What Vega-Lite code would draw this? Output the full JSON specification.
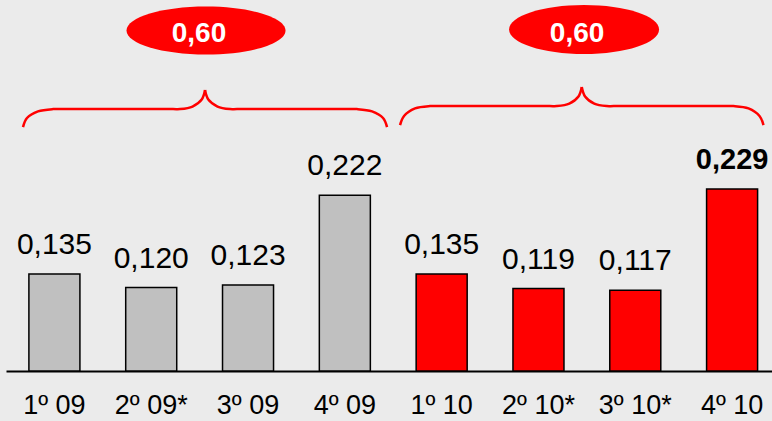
{
  "$schema": "https://vega.github.io/schema/vega-lite/v6.json",
  "width": 766,
  "height": 371,
  "autosize": {"type": "none"},
  "padding": {"left": 6, "top": 0, "right": 0, "bottom": 50},
  "background": "#ebebeb",
  "config": {
    "view": {"stroke": null},
    "font": "Liberation Sans",
    "locale": {"number": {"decimal": ",", "thousands": ".", "grouping": [3], "currency": ["", " €"]}},
    "axis": {"grid": false}
  },
  "datasets": {
    "bars": [
      {"q": "1º 09", "year": "2009", "v": 0.135},
      {"q": "2º 09*", "year": "2009", "v": 0.120},
      {"q": "3º 09", "year": "2009", "v": 0.123},
      {"q": "4º 09", "year": "2009", "v": 0.222},
      {"q": "1º 10", "year": "2010", "v": 0.135},
      {"q": "2º 10*", "year": "2010", "v": 0.119},
      {"q": "3º 10*", "year": "2010", "v": 0.117},
      {"q": "4º 10", "year": "2010", "v": 0.229}
    ],
    "totals": [
      {"group": "2009", "pos": 2.566, "total": 0.60},
      {"group": "2010", "pos": 6.471, "total": 0.60}
    ],
    "braces": [
      {"seg": "L1", "k": 1, "bx": 0.6756, "by": 0.2975},
      {"seg": "L1", "k": 2, "bx": 0.7169, "by": 0.3075},
      {"seg": "L1", "k": 3, "bx": 0.8306, "by": 0.3148},
      {"seg": "L1", "k": 4, "bx": 0.9855, "by": 0.3174},
      {"seg": "L1", "k": 5, "bx": 1.0579, "by": 0.3174},
      {"seg": "L1", "k": 6, "bx": 2.2252, "by": 0.3174},
      {"seg": "L1", "k": 7, "bx": 2.2975, "by": 0.3174},
      {"seg": "L1", "k": 8, "bx": 2.4267, "by": 0.3202},
      {"seg": "L1", "k": 9, "bx": 2.5217, "by": 0.3279},
      {"seg": "L1", "k": 10, "bx": 2.5558, "by": 0.3384},
      {"seg": "L2", "k": 1, "bx": 2.5558, "by": 0.3384},
      {"seg": "L2", "k": 2, "bx": 2.5899, "by": 0.3279},
      {"seg": "L2", "k": 3, "bx": 2.6849, "by": 0.3202},
      {"seg": "L2", "k": 4, "bx": 2.8140, "by": 0.3174},
      {"seg": "L2", "k": 5, "bx": 2.8864, "by": 0.3174},
      {"seg": "L2", "k": 6, "bx": 4.0537, "by": 0.3174},
      {"seg": "L2", "k": 7, "bx": 4.1260, "by": 0.3174},
      {"seg": "L2", "k": 8, "bx": 4.2810, "by": 0.3148},
      {"seg": "L2", "k": 9, "bx": 4.3946, "by": 0.3075},
      {"seg": "L2", "k": 10, "bx": 4.4360, "by": 0.2975},
      {"seg": "R1", "k": 1, "bx": 4.5702, "by": 0.2997},
      {"seg": "R1", "k": 2, "bx": 4.6116, "by": 0.3097},
      {"seg": "R1", "k": 3, "bx": 4.7252, "by": 0.3181},
      {"seg": "R1", "k": 4, "bx": 4.8802, "by": 0.3207},
      {"seg": "R1", "k": 5, "bx": 4.9525, "by": 0.3207},
      {"seg": "R1", "k": 6, "bx": 6.1167, "by": 0.3207},
      {"seg": "R1", "k": 7, "bx": 6.1890, "by": 0.3207},
      {"seg": "R1", "k": 8, "bx": 6.3182, "by": 0.3235},
      {"seg": "R1", "k": 9, "bx": 6.4132, "by": 0.3313},
      {"seg": "R1", "k": 10, "bx": 6.4473, "by": 0.3418},
      {"seg": "R2", "k": 1, "bx": 6.4473, "by": 0.3418},
      {"seg": "R2", "k": 2, "bx": 6.4814, "by": 0.3313},
      {"seg": "R2", "k": 3, "bx": 6.5764, "by": 0.3235},
      {"seg": "R2", "k": 4, "bx": 6.7056, "by": 0.3207},
      {"seg": "R2", "k": 5, "bx": 6.7779, "by": 0.3207},
      {"seg": "R2", "k": 6, "bx": 7.9421, "by": 0.3207},
      {"seg": "R2", "k": 7, "bx": 8.0145, "by": 0.3207},
      {"seg": "R2", "k": 8, "bx": 8.1694, "by": 0.3181},
      {"seg": "R2", "k": 9, "bx": 8.2831, "by": 0.3097},
      {"seg": "R2", "k": 10, "bx": 8.3244, "by": 0.2997}
    ]
  },
  "layer": [
    {
      "data": {"name": "bars"},
      "encoding": {
        "x": {
          "field": "q", "type": "nominal", "sort": null,
          "scale": {"range": [0, 774.5], "paddingInner": 0.473, "paddingOuter": 0.2365},
          "axis": {
            "title": null, "domainColor": "black", "domainWidth": 2,
            "ticks": false, "tickSize": 0, "labelFontSize": 27, "labelColor": "black",
            "labelFont": "Liberation Sans", "labelPadding": 42, "labelBaseline": "alphabetic",
            "labelAngle": 0, "labelOverlap": false, "labelBound": false
          }
        },
        "y": {
          "field": "v", "type": "quantitative",
          "scale": {"domain": [0.0278, 0.438], "nice": false, "zero": false},
          "axis": null
        }
      },
      "layer": [
        {
          "mark": {"type": "bar", "stroke": "black", "strokeWidth": 1.5},
          "encoding": {
            "y2": {"datum": 0.0278},
            "color": {
              "field": "year", "type": "nominal",
              "scale": {"domain": ["2009", "2010"], "range": ["#c0c0c0", "#ff0000"]},
              "legend": null
            }
          }
        },
        {
          "transform": [{"filter": "datum.q !== '4º 10'"}],
          "mark": {"type": "text", "fontSize": 30, "dy": -20, "baseline": "alphabetic", "color": "black", "font": "Liberation Sans"},
          "encoding": {"text": {"field": "v", "type": "quantitative", "format": ".3f"}}
        },
        {
          "transform": [{"filter": "datum.q === '4º 10'"}],
          "mark": {"type": "text", "fontSize": 29, "fontWeight": "bold", "dy": -20, "baseline": "alphabetic", "color": "black", "font": "Liberation Sans"},
          "encoding": {"text": {"field": "v", "type": "quantitative", "format": ".3f"}}
        }
      ]
    },
    {
      "layer": [
        {
          "data": {"name": "braces"},
          "mark": {"type": "line", "interpolate": "catmull-rom", "color": "#ff0000", "strokeWidth": 2.5},
          "encoding": {
            "x": {"field": "bx", "type": "quantitative", "scale": {"domain": [0.5, 8.5], "range": [0, 774.5], "nice": false, "zero": false}, "axis": null},
            "y": {"field": "by", "type": "quantitative", "scale": {"domain": [0.0278, 0.438], "nice": false, "zero": false}, "axis": null},
            "detail": {"field": "seg"},
            "order": {"field": "k"}
          }
        },
        {
          "data": {"name": "totals"},
          "transform": [{"filter": "datum.group === '2009'"}],
          "mark": {"type": "point", "filled": true, "color": "#ff0000", "opacity": 1, "strokeWidth": 0, "size": 25281, "shape": "M-1,0A1,0.302,0,1,0,1,0A1,0.302,0,1,0,-1,0Z"},
          "encoding": {
            "x": {"field": "pos", "type": "quantitative", "scale": {"domain": [0.5, 8.5], "range": [0, 774.5], "nice": false, "zero": false}, "axis": null},
            "y": {"datum": 0.4042, "type": "quantitative", "scale": {"domain": [0.0278, 0.438], "nice": false, "zero": false}, "axis": null}
          }
        },
        {
          "data": {"name": "totals"},
          "transform": [{"filter": "datum.group === '2010'"}],
          "mark": {"type": "point", "filled": true, "color": "#ff0000", "opacity": 1, "strokeWidth": 0, "size": 22500, "shape": "M-1,0A1,0.327,0,1,0,1,0A1,0.327,0,1,0,-1,0Z"},
          "encoding": {
            "x": {"field": "pos", "type": "quantitative", "scale": {"domain": [0.5, 8.5], "range": [0, 774.5], "nice": false, "zero": false}, "axis": null},
            "y": {"datum": 0.4054, "type": "quantitative", "scale": {"domain": [0.0278, 0.438], "nice": false, "zero": false}, "axis": null}
          }
        },
        {
          "data": {"name": "totals"},
          "mark": {"type": "text", "fontSize": 28, "fontWeight": "bold", "color": "white", "dx": -7, "dy": 11, "baseline": "alphabetic", "font": "Liberation Sans"},
          "encoding": {
            "x": {"field": "pos", "type": "quantitative", "scale": {"domain": [0.5, 8.5], "range": [0, 774.5], "nice": false, "zero": false}, "axis": null},
            "y": {"datum": 0.4042, "type": "quantitative", "scale": {"domain": [0.0278, 0.438], "nice": false, "zero": false}, "axis": null},
            "text": {"field": "total", "type": "quantitative", "format": ".2f"}
          }
        }
      ]
    }
  ],
  "resolve": {"scale": {"x": "independent"}, "axis": {"x": "independent"}}
}
